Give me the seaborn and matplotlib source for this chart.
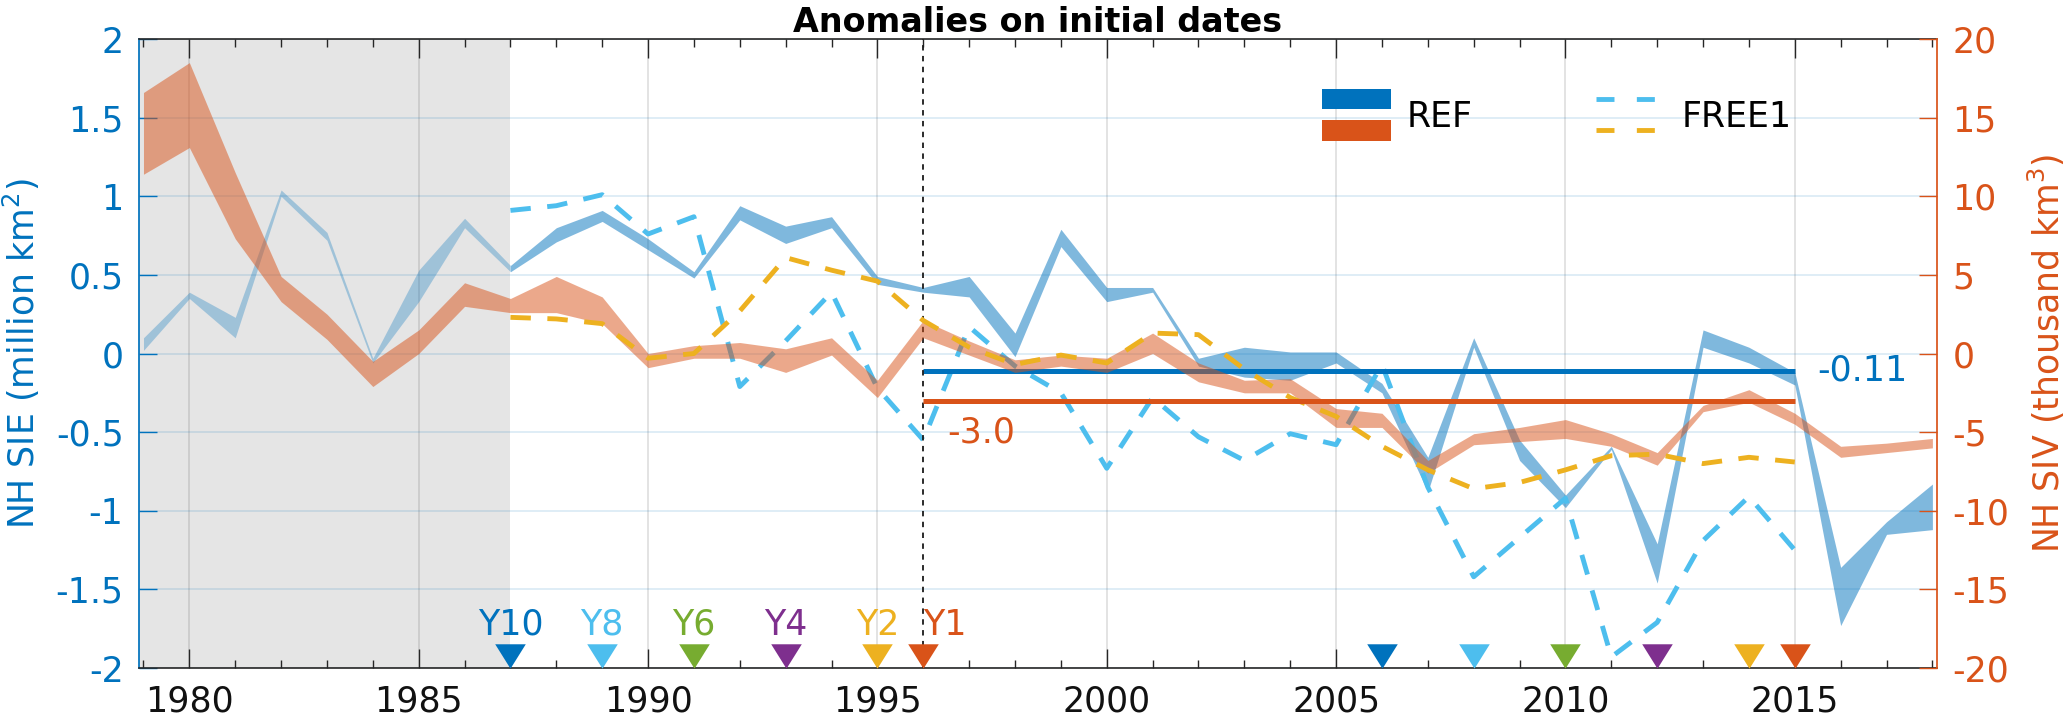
import numpy as np
import pandas as pd
import matplotlib
matplotlib.use('Agg')
import matplotlib.pyplot as plt
import matplotlib.transforms as mtransforms
from matplotlib.legend_handler import HandlerBase
from matplotlib.patches import Rectangle
from matplotlib.lines import Line2D
from matplotlib.ticker import MultipleLocator, FuncFormatter
import seaborn as sns

# --- data ---
ref_years = list(range(1979, 2019))
# NH sea-ice extent, REF ensemble range (million km2)
sie_ref_lo = [0.02, 0.35, 0.10, 1.00, 0.72, -0.06, 0.33, 0.80, 0.52, 0.71,
              0.84, 0.66, 0.48, 0.85, 0.70, 0.80, 0.44, 0.39, 0.36, -0.02,
              0.68, 0.33, 0.39, -0.08, -0.15, -0.17, -0.06, -0.25, -0.88, 0.04,
              -0.68, -0.98, -0.61, -1.46, 0.04, -0.06, -0.20, -1.73, -1.15, -1.12]
sie_ref_hi = [0.10, 0.39, 0.23, 1.04, 0.77, -0.03, 0.53, 0.86, 0.56, 0.80,
              0.91, 0.73, 0.52, 0.94, 0.81, 0.87, 0.49, 0.42, 0.49, 0.13,
              0.79, 0.42, 0.42, -0.03, 0.04, 0.01, 0.01, -0.19, -0.66, 0.10,
              -0.55, -0.90, -0.59, -1.21, 0.15, 0.04, -0.12, -1.36, -1.07, -0.83]
# NH sea-ice volume, REF ensemble range (thousand km3)
siv_ref_lo = [11.4, 13.1, 7.3, 3.3, 0.9, -2.1, 0.0, 3.0, 2.6, 2.6,
              1.9, -0.9, -0.3, -0.3, -1.2, -0.1, -2.8, 1.0, -0.1, -1.2,
              -0.8, -1.2, 0.0, -1.8, -2.5, -2.5, -4.7, -4.7, -7.6, -5.8,
              -5.6, -5.4, -5.9, -7.1, -3.7, -3.1, -4.5, -6.6, -6.3, -6.0]
siv_ref_hi = [16.6, 18.5, 11.5, 4.9, 2.5, -0.5, 1.5, 4.5, 3.5, 4.9,
              3.6, 0.0, 0.5, 0.7, 0.3, 1.0, -1.7, 2.1, 0.8, -0.4,
              -0.1, -0.3, 1.3, -0.6, -1.7, -1.6, -3.5, -3.8, -6.8, -5.1,
              -4.7, -4.2, -5.1, -6.3, -3.3, -2.3, -3.8, -5.9, -5.7, -5.4]

free_years = list(range(1987, 2016))
sie_free1 = [0.91, 0.94, 1.01, 0.76, 0.87, -0.21, 0.08, 0.39, -0.22, -0.55,
             0.17, -0.08, -0.25, -0.73, -0.28, -0.53, -0.68, -0.51, -0.58, -0.07,
             -0.85, -1.42, -1.17, -0.92, -1.93, -1.71, -1.19, -0.91, -1.25]
siv_free1 = [2.3, 2.2, 1.9, -0.3, 0.0, 2.7, 6.1, 5.3, 4.6, 2.1,
             0.4, -0.7, -0.1, -0.6, 1.3, 1.2, -1.0, -2.8, -4.0, -5.9,
             -7.4, -8.6, -8.2, -7.4, -6.5, -6.4, -7.0, -6.6, -6.9]

spinup_end = 1987
init_year = 1996
mean_span = [1996, 2015]
sie_ref_mean = -0.11
siv_ref_mean = -3.0

lead_labels = ['Y10', 'Y8', 'Y6', 'Y4', 'Y2', 'Y1']
lead_init_years = [1987, 1989, 1991, 1993, 1995, 1996]
lead_target_years = [2006, 2008, 2010, 2012, 2014, 2015]

# MATLAB default colours
BLUE = '#0072BD'
ORANGE = '#D95319'
YELLOW = '#EDB120'
PURPLE = '#7E2F8E'
GREEN = '#77AC30'
CYAN = '#4DBEEE'
lead_colors = [BLUE, CYAN, GREEN, PURPLE, YELLOW, ORANGE]

sns.set_theme(style='white')
plt.rcParams['font.family'] = ['DejaVu Sans']
plt.rcParams['axes.unicode_minus'] = False
FS = 25
DASH = (0, (4.2, 3.4))
DASH_LW = 3.5

ref = pd.DataFrame({'year': ref_years, 'sie_lo': sie_ref_lo, 'sie_hi': sie_ref_hi,
                    'siv_lo': siv_ref_lo, 'siv_hi': siv_ref_hi})
free = pd.DataFrame({'year': free_years, 'sie': sie_free1, 'siv': siv_free1})


class PairKey:
    def __init__(self, kind, colors):
        self.kind = kind
        self.colors = colors


class PairHandler(HandlerBase):
    # two stacked swatches (top / bottom) for one legend entry
    def create_artists(self, legend, orig_handle, xdescent, ydescent,
                       width, height, fontsize, trans):
        x0 = -xdescent
        yc = -ydescent + height / 2
        off = 0.45 * fontsize
        artists = []
        for c, dy in zip(orig_handle.colors, [off, -off]):
            if orig_handle.kind == 'patch':
                h = 0.58 * fontsize
                a = Rectangle((x0, yc + dy - h / 2), width, h, facecolor=c,
                              edgecolor='none', transform=trans)
            else:
                a = Line2D([x0, x0 + width], [yc + dy, yc + dy], color=c, lw=DASH_LW,
                           linestyle=(0, (3.7, 4.6)), transform=trans)
            artists.append(a)
        return artists


fig = plt.figure(figsize=(20.67, 7.2), dpi=100)
ax = fig.add_axes([0.0672, 0.0722, 0.8699, 0.8736])
ax2 = ax.twinx()

ax.set_xlim(1978.9, 2018.1)
ax.set_ylim(-2, 2)
ax2.set_ylim(-20, 20)

# spin-up period shading
ax.axvspan(ax.get_xlim()[0], spinup_end, color='#e5e5e5', lw=0, zorder=0.2)

# REF ranges
early = ref[ref['year'] <= spinup_end]
late = ref[ref['year'] >= spinup_end]
ax.fill_between(early['year'], early['sie_lo'], early['sie_hi'], color=BLUE, alpha=0.3, lw=0, zorder=1)
ax.fill_between(late['year'], late['sie_lo'], late['sie_hi'], color=BLUE, alpha=0.5, lw=0, zorder=1)
ax2.fill_between(ref['year'], ref['siv_lo'], ref['siv_hi'], color=ORANGE, alpha=0.5, lw=0, zorder=1)

# FREE1 runs
sns.lineplot(data=free, x='year', y='sie', ax=ax, color=CYAN, lw=DASH_LW,
             linestyle=DASH, legend=False, zorder=2)
sns.lineplot(data=free, x='year', y='siv', ax=ax2, color=YELLOW, lw=DASH_LW,
             linestyle=DASH, legend=False, zorder=2)

# REF means over the hindcast period
ax.hlines(sie_ref_mean, mean_span[0], mean_span[1], color=BLUE, lw=3.6, zorder=3)
ax2.hlines(siv_ref_mean, mean_span[0], mean_span[1], color=ORANGE, lw=3.6, zorder=3)
ax.annotate(f'{sie_ref_mean:.2f}', (mean_span[1], sie_ref_mean), xytext=(16, 0),
            textcoords='offset points', va='center', ha='left', color=BLUE, fontsize=FS)
ax2.annotate(f'{siv_ref_mean:.1f}', (mean_span[0], siv_ref_mean), xytext=(17, -23),
             textcoords='offset points', va='center', ha='left', color=ORANGE, fontsize=FS)

ax.axvline(init_year, color='k', lw=1.3, linestyle=(0, (3, 3)), zorder=3)

# lead-time markers along the bottom axis
tri = [(-1, 0.8), (1, 0.8), (0, -0.8)]
base = mtransforms.blended_transform_factory(ax.transData, ax.transAxes)
mk_trans = base + mtransforms.ScaledTranslation(0, 8.8 / 72, fig.dpi_scale_trans)
for lab, y0, y1, c in zip(lead_labels, lead_init_years, lead_target_years, lead_colors):
    ax.plot([y0, y1], [0, 0], marker=tri, ms=22, mew=0, color=c, lw=0,
            transform=mk_trans, clip_on=False, zorder=4)
    ax.annotate(lab, (y0, 0), xycoords=base, xytext=(0, 24), textcoords='offset points',
                ha='left' if lab == 'Y1' else 'center', va='baseline', color=c, fontsize=FS)

# axes styling
ax.xaxis.set_major_locator(MultipleLocator(5))
ax.xaxis.set_minor_locator(MultipleLocator(1))
ax.yaxis.set_major_locator(MultipleLocator(0.5))
ax2.yaxis.set_major_locator(MultipleLocator(5))
fmt = FuncFormatter(lambda v, p: f'{v:g}')
ax.yaxis.set_major_formatter(fmt)
ax2.yaxis.set_major_formatter(fmt)
ax.xaxis.set_major_formatter(FuncFormatter(lambda v, p: f'{v:.0f}'))

ax.grid(False)
ax2.grid(False)
ax.xaxis.grid(True, which='major', color=(0.15, 0.15, 0.15), alpha=0.15, lw=1.2)
ax.yaxis.grid(True, which='major', color=BLUE, alpha=0.15, lw=1.2)

ax.tick_params(axis='x', which='major', direction='in', length=14, width=1, top=True,
               bottom=True, labelsize=FS, pad=12, colors='#262626', labelcolor='#111111')
ax.tick_params(axis='x', which='minor', direction='in', length=6, width=1, top=True,
               bottom=True, colors='#262626')
ax.tick_params(axis='y', direction='in', length=13, width=1, labelsize=FS, pad=11,
               colors=BLUE, left=True, right=False)
ax2.tick_params(axis='y', direction='in', length=13, width=1, labelsize=FS, pad=11,
                colors=ORANGE, right=True, left=False)

for s in ['top', 'bottom']:
    ax.spines[s].set_color('#262626')
    ax.spines[s].set_linewidth(1.2)
ax.spines['left'].set_color(BLUE)
ax.spines['right'].set_visible(False)
for s in ['top', 'bottom', 'left']:
    ax2.spines[s].set_visible(False)
ax2.spines['right'].set_color(ORANGE)

ax.set_xlabel('')
ax.set_ylabel('NH SIE (million km$^2$)', color=BLUE, fontsize=FS, labelpad=10)
ax2.set_ylabel('NH SIV (thousand km$^3$)', color=ORANGE, fontsize=FS, labelpad=12)
ax.set_title('Anomalies on initial dates', fontweight='bold', fontsize=24, pad=5,
             color='black')

leg = ax2.legend(handles=[PairKey('patch', [BLUE, ORANGE]), PairKey('line', [CYAN, YELLOW])],
                 labels=['REF', 'FREE1'], handler_map={PairKey: PairHandler()}, ncol=2,
                 frameon=False, fontsize=FS, handlelength=2.0, handletextpad=0.45,
                 columnspacing=3.55, loc='center left', bbox_to_anchor=(0.658, 0.876),
                 borderpad=0, borderaxespad=0)
for t in leg.get_texts():
    t.set_color('black')

fig.savefig('out.png', dpi=100)
